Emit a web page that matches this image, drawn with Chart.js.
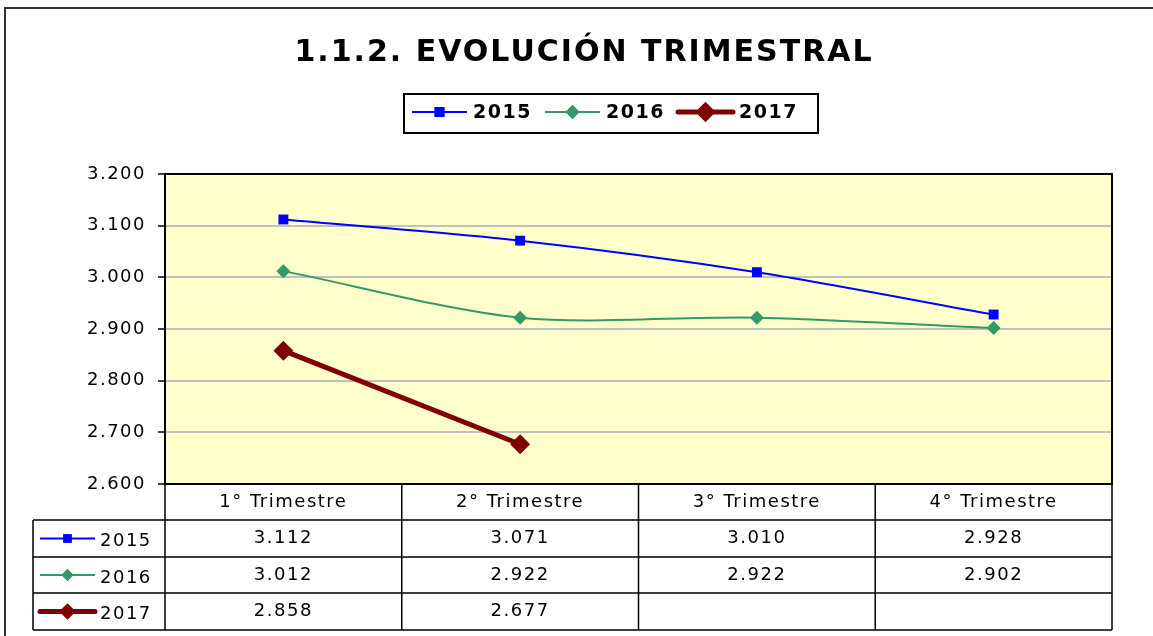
<!DOCTYPE html>
<html lang="es">
<head>
  <meta charset="UTF-8" />
  <title>1.1.2. Evolución trimestral</title>
  <script src="https://cdn.jsdelivr.net/npm/chart.js"></script>
  <style>
    html, body { margin: 0; padding: 0; background: #fff; }
    #wrap { width: 1153px; height: 636px; }
  </style>
</head>
<body>
  <div id="wrap"><canvas id="trimChart" width="1153" height="636"></canvas></div>

  <script>
    const titulo = '1.1.2. EVOLUCIÓN TRIMESTRAL';
    const trimestres = ['1° Trimestre', '2° Trimestre', '3° Trimestre', '4° Trimestre'];
    const years = ['2015', '2016', '2017'];
    const v2015 = [3112, 3071, 3010, 2928];
    const v2016 = [3012, 2922, 2922, 2902];
    const v2017 = [2858, 2677, null, null];
    const yMin = 2600, yMax = 3200, yStep = 100;

    const FONT = '"DejaVu Sans", Verdana, sans-serif';

    // 3112 -> "3.112"
    function fmt(v) {
      if (v === null || v === undefined) return '';
      const n = Math.round(v);
      return Math.floor(n / 1000) + '.' + String(n % 1000).padStart(3, '0');
    }

    const styles = [
      { color: '#0000ff', width: 2, point: 'rect', radius: 7 },
      { color: '#339966', width: 2, point: 'rectRot', radius: 7 },
      { color: '#800000', width: 5, point: 'rectRot', radius: 10 }
    ];
    const series = [v2015, v2016, v2017];

    function drawSample(ctx, x1, x2, y, st, scale) {
      ctx.save();
      ctx.strokeStyle = st.color;
      ctx.lineWidth = st.width;
      ctx.lineCap = st.width > 3 ? 'round' : 'butt';
      ctx.beginPath();
      ctx.moveTo(x1, y);
      ctx.lineTo(x2, y);
      ctx.stroke();
      ctx.fillStyle = st.color;
      Chart.helpers.drawPoint(ctx, { pointStyle: st.point, radius: st.radius * scale, borderWidth: 0 }, (x1 + x2) / 2, y);
      ctx.fill();
      ctx.restore();
    }

    const decor = {
      id: 'decor',
      beforeDraw(chart) {
        const { ctx, chartArea: a } = chart;
        ctx.save();
        ctx.fillStyle = '#fff';
        ctx.fillRect(0, 0, chart.width, chart.height);
        ctx.fillStyle = '#ffffcc';
        ctx.fillRect(a.left, a.top, a.right - a.left, a.bottom - a.top);
        ctx.restore();
        ctx.letterSpacing = '1.5px';
      },
      afterDraw(chart) {
        const { ctx, chartArea: a } = chart;
        const xs = chart.scales.x;
        ctx.save();

        // outer frame
        ctx.strokeStyle = '#333';
        ctx.lineWidth = 2;
        ctx.beginPath();
        ctx.moveTo(5, 636);
        ctx.lineTo(5, 8);
        ctx.lineTo(1153, 8);
        ctx.stroke();

        // plot frame top / right
        ctx.strokeStyle = '#000';
        ctx.lineWidth = 2;
        ctx.beginPath();
        ctx.moveTo(a.left, a.top);
        ctx.lineTo(a.right, a.top);
        ctx.lineTo(a.right, a.bottom);
        ctx.stroke();

        // title
        ctx.fillStyle = '#000';
        ctx.textAlign = 'center';
        ctx.textBaseline = 'middle';
        ctx.letterSpacing = '2px';
        ctx.font = 'bold 30px ' + FONT;
        ctx.fillText(titulo, 584, 53);

        // legend box
        ctx.lineWidth = 2;
        ctx.strokeStyle = '#000';
        ctx.strokeRect(404, 94, 414, 39);
        ctx.font = 'bold 19px ' + FONT;
        ctx.textAlign = 'left';
        ctx.letterSpacing = '1.5px';
        const legX = [412, 545, 678];
        years.forEach((yr, i) => {
          drawSample(ctx, legX[i], legX[i] + 55, 112, styles[i], 1);
          ctx.fillStyle = '#000';
          ctx.fillText(yr, legX[i] + 61, 113);
        });

        // data table
        const rowY = [a.bottom, 520, 557, 593, 630];
        const legLeft = 33;
        ctx.strokeStyle = '#000';
        ctx.lineWidth = 1.5;
        ctx.beginPath();
        for (let r = 1; r < rowY.length; r++) {
          ctx.moveTo(legLeft, rowY[r]);
          ctx.lineTo(a.right, rowY[r]);
        }
        ctx.moveTo(legLeft, rowY[1]);
        ctx.lineTo(legLeft, rowY[4]);
        ctx.moveTo(a.left, rowY[0]);
        ctx.lineTo(a.left, rowY[4]);
        ctx.moveTo(a.right, rowY[0]);
        ctx.lineTo(a.right, rowY[4]);
        for (let i = 1; i < trimestres.length; i++) {
          const xm = (xs.getPixelForValue(i - 1) + xs.getPixelForValue(i)) / 2;
          ctx.moveTo(xm, rowY[0]);
          ctx.lineTo(xm, rowY[4]);
        }
        ctx.stroke();

        ctx.font = '18px ' + FONT;
        ctx.letterSpacing = '1.5px';
        series.forEach((vals, r) => {
          const yc = (rowY[r + 1] + rowY[r + 2]) / 2;
          drawSample(ctx, 40, 95, yc, styles[r], r === 2 ? 0.8 : 0.85);
          ctx.fillStyle = '#000';
          ctx.textAlign = 'left';
          ctx.fillText(years[r], 100, yc + 3);
          ctx.textAlign = 'center';
          vals.forEach((v, i) => {
            ctx.fillText(fmt(v), xs.getPixelForValue(i), yc);
          });
        });

        ctx.restore();
        ctx.letterSpacing = '0px';
      }
    };

    new Chart(document.getElementById('trimChart'), {
      type: 'line',
      data: {
        labels: trimestres,
        datasets: years.map((yr, i) => ({
          label: yr,
          data: series[i],
          borderColor: styles[i].color,
          backgroundColor: styles[i].color,
          borderWidth: styles[i].width,
          pointStyle: styles[i].point,
          pointRadius: styles[i].radius,
          pointHoverRadius: styles[i].radius,
          pointBorderWidth: 0,
          tension: i === 2 ? 0 : 0.3,
          spanGaps: false,
          fill: false
        }))
      },
      options: {
        responsive: false,
        animation: false,
        events: [],
        layout: { padding: { left: 0, top: 174, right: 41, bottom: 116 } },
        plugins: {
          legend: { display: false },
          title: { display: false },
          tooltip: { enabled: false }
        },
        scales: {
          x: {
            offset: true,
            grid: { display: false, drawTicks: false },
            border: { display: true, color: '#000', width: 2 },
            ticks: {
              color: '#000',
              padding: 8,
              font: { family: FONT, size: 18 },
              maxRotation: 0,
              autoSkip: false
            },
            afterFit(s) { s.height = 36; }
          },
          y: {
            min: yMin,
            max: yMax,
            grid: {
              color: '#c0c0c0',
              lineWidth: 2,
              tickLength: 7,
              tickColor: '#000',
              tickWidth: 1.5
            },
            border: { display: true, color: '#000', width: 2 },
            ticks: {
              stepSize: yStep,
              color: '#000',
              padding: 12,
              font: { family: FONT, size: 18 },
              callback: v => fmt(v)
            },
            afterFit(s) { s.width = 165; }
          }
        }
      },
      plugins: [decor]
    });
  </script>
</body>
</html>
